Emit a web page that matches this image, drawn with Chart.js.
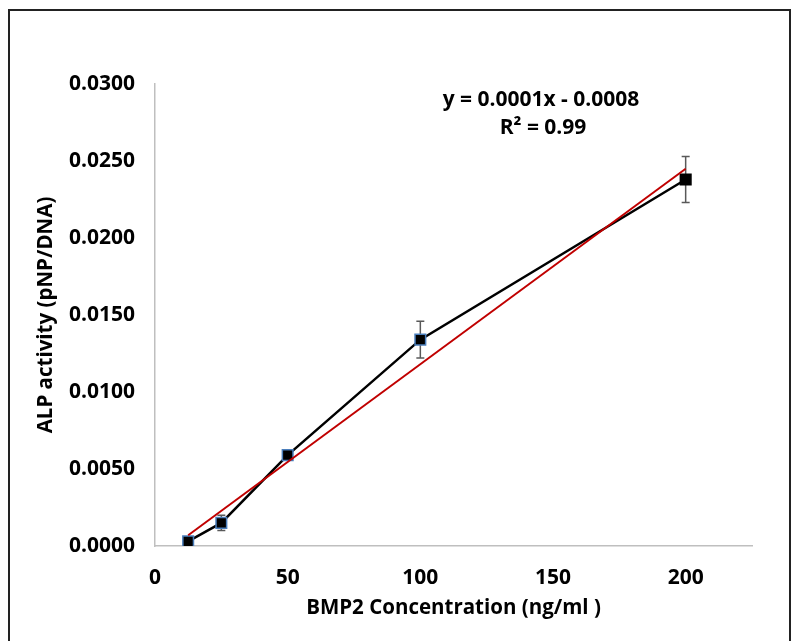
<!DOCTYPE html>
<html>
<head>
<meta charset="utf-8">
<script src="https://cdn.jsdelivr.net/npm/chart.js@4"></script>
<style>
  html, body { margin: 0; padding: 0; background: #fff; overflow: hidden; }
  #wrap { position: relative; width: 792px; height: 641px; }
  #frame { position: absolute; left: 8px; top: 9px; width: 779px; height: 640px; border: 2px solid #222; border-bottom: none; }
  canvas { position: absolute; left: 0; top: 0; }
</style>
</head>
<body>
<div id="wrap">
  <div id="frame"></div>
  <canvas id="chart" width="792" height="641"></canvas>
</div>
<script>
// data
const concentrations = [12.5, 25, 50, 100, 200];
const alpActivity = [0.0003, 0.0015, 0.0059, 0.0134, 0.0238];
const alpError = [0.0002, 0.0005, 0.0002, 0.0012, 0.0015];
const trendX = [12.5, 200];
const trendY = [0.0007, 0.0245];
const xTicks = [0, 50, 100, 150, 200];
const yTicks = [0, 0.005, 0.01, 0.015, 0.02, 0.025, 0.03];
const equationLines = ['y = 0.0001x - 0.0008', 'R² = 0.99'];

const fontFam = '"Open Sans", Lato, sans-serif';

// error bars, drawn under the lines and markers
const errorBars = {
  id: 'errorBars',
  beforeDatasetsDraw(chart) {
    const ctx = chart.ctx;
    const xs = chart.scales.x, ys = chart.scales.y;
    ctx.save();
    ctx.strokeStyle = '#595959';
    ctx.lineWidth = 1.5;
    concentrations.forEach((c, i) => {
      const px = xs.getPixelForValue(c);
      const top = ys.getPixelForValue(alpActivity[i] + alpError[i]);
      const bot = ys.getPixelForValue(alpActivity[i] - alpError[i]);
      ctx.beginPath();
      ctx.moveTo(px, top); ctx.lineTo(px, bot);
      ctx.moveTo(px - 4, top); ctx.lineTo(px + 4, top);
      ctx.moveTo(px - 4, bot); ctx.lineTo(px + 4, bot);
      ctx.stroke();
    });
    ctx.restore();
  }
};

// trendline equation
const equationText = {
  id: 'equationText',
  afterDraw(chart) {
    const ctx = chart.ctx;
    ctx.save();
    ctx.fillStyle = '#000';
    ctx.font = 'bold 21px ' + fontFam;
    ctx.textAlign = 'center';
    ctx.textBaseline = 'middle';
    ctx.fillText(equationLines[0], 541, 100);
    ctx.fillText(equationLines[1], 543, 128);
    ctx.restore();
  }
};

new Chart(document.getElementById('chart'), {
  type: 'scatter',
  data: {
    datasets: [
      {
        label: 'Linear trend',
        data: trendX.map((x, i) => ({ x: x, y: trendY[i] })),
        showLine: true,
        borderColor: '#c00000',
        borderWidth: 2,
        pointRadius: 0,
        order: 1
      },
      {
        label: 'ALP activity',
        data: concentrations.map((x, i) => ({ x: x, y: alpActivity[i] })),
        showLine: true,
        borderColor: '#000',
        borderWidth: 2.5,
        pointStyle: 'rect',
        pointRadius: 7.5,
        pointBackgroundColor: '#000',
        pointBorderColor: ['#4a7ebb', '#4a7ebb', '#4a7ebb', '#4a7ebb', '#000'],
        pointBorderWidth: 1.5,
        order: 2
      }
    ]
  },
  options: {
    responsive: false,
    animation: false,
    layout: { padding: { top: 84, right: 40, left: 0, bottom: 0 } },
    plugins: {
      legend: { display: false },
      tooltip: { enabled: false }
    },
    scales: {
      x: {
        type: 'linear',
        min: 0,
        max: 225,
        afterBuildTicks: axis => { axis.ticks = xTicks.map(v => ({ value: v })); },
        afterFit: scale => { scale.height = 95; },
        grid: { display: false, drawTicks: false },
        border: { color: '#bfbfbf', width: 1.5 },
        ticks: {
          padding: 19,
          color: '#000',
          font: { family: fontFam, size: 21, weight: 'bold' }
        },
        title: {
          display: true,
          text: 'BMP2 Concentration (ng/ml )',
          color: '#000',
          padding: { top: 0, bottom: 21 },
          font: { family: fontFam, size: 20.5, weight: 'bold' }
        }
      },
      y: {
        type: 'linear',
        min: 0,
        max: 0.03,
        afterBuildTicks: axis => { axis.ticks = yTicks.map(v => ({ value: v })); },
        afterFit: scale => { scale.width = 155; },
        grid: { display: false, drawTicks: false },
        border: { color: '#bfbfbf', width: 1.5 },
        ticks: {
          padding: 20,
          color: '#000',
          font: { family: fontFam, size: 21, weight: 'bold' },
          callback: v => v.toFixed(4)
        },
        title: {
          display: true,
          text: 'ALP activity (pNP/DNA)',
          color: '#000',
          padding: { top: 34, bottom: 0 },
          font: { family: fontFam, size: 20.5, weight: 'bold' }
        }
      }
    }
  },
  plugins: [errorBars, equationText]
});
</script>
</body>
</html>
